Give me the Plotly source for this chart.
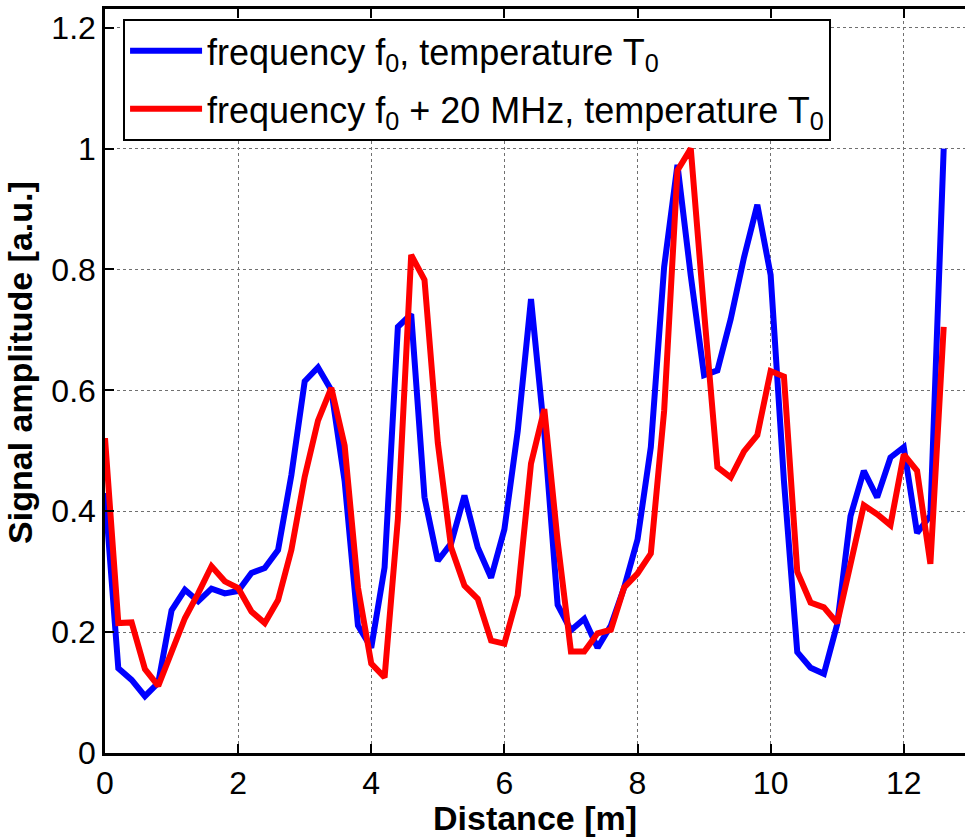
import plotly.graph_objects as go

distance = [0.0, 0.2, 0.4, 0.6, 0.8, 1.0, 1.2, 1.4, 1.6, 1.8,
            2.0, 2.2, 2.4, 2.6, 2.8, 3.0, 3.2, 3.4, 3.6, 3.8,
            4.0, 4.2, 4.4, 4.6, 4.8, 5.0, 5.2, 5.4, 5.6, 5.8,
            6.0, 6.2, 6.4, 6.6, 6.8, 7.0, 7.2, 7.4, 7.6, 7.8,
            8.0, 8.2, 8.4, 8.6, 8.8, 9.0, 9.2, 9.4, 9.6, 9.8,
            10.0, 10.2, 10.4, 10.6, 10.8, 11.0, 11.2, 11.4, 11.6, 11.8,
            12.0, 12.2, 12.4, 12.6]

amp_f0 = [0.43, 0.140, 0.121, 0.094, 0.116, 0.236, 0.270, 0.251, 0.272, 0.264,
          0.268, 0.298, 0.306, 0.336, 0.46, 0.615, 0.638, 0.600, 0.45, 0.211,
          0.174, 0.307, 0.705, 0.726, 0.423, 0.318, 0.347, 0.426, 0.340, 0.290,
          0.370, 0.532, 0.751, 0.53, 0.245, 0.203, 0.222, 0.174, 0.211, 0.274,
          0.353, 0.506, 0.804, 0.973, 0.79, 0.625, 0.633, 0.718, 0.82, 0.907,
          0.791, 0.45, 0.167, 0.141, 0.131, 0.213, 0.392, 0.467, 0.423, 0.489,
          0.506, 0.364, 0.393, 1.0]

amp_f0_20 = [0.521, 0.215, 0.216, 0.139, 0.111, 0.165, 0.223, 0.264, 0.309, 0.284,
             0.273, 0.234, 0.215, 0.253, 0.336, 0.457, 0.55, 0.604, 0.509, 0.274,
             0.148, 0.125, 0.387, 0.824, 0.783, 0.513, 0.340, 0.277, 0.255, 0.186,
             0.181, 0.261, 0.479, 0.569, 0.35, 0.168, 0.168, 0.198, 0.204, 0.274,
             0.297, 0.330, 0.566, 0.964, 1.0, 0.73, 0.473, 0.456, 0.499, 0.526,
             0.632, 0.623, 0.300, 0.249, 0.241, 0.215, 0.313, 0.410, 0.395, 0.377,
             0.494, 0.467, 0.313, 0.705]

x_ticks = [0, 2, 4, 6, 8, 10, 12]
y_ticks = [0, 0.2, 0.4, 0.6, 0.8, 1.0, 1.2]
y_ticklabels = ["0", "0.2", "0.4", "0.6", "0.8", "1", "1.2"]

names = ["frequency f<sub>0</sub>, temperature T<sub>0</sub>",
         "frequency f<sub>0</sub> + 20 MHz, temperature T<sub>0</sub>"]

FONT = "Liberation Sans, Arial, sans-serif"

fig = go.Figure()
fig.add_trace(go.Scatter(x=distance, y=amp_f0, mode="lines", name=names[0],
                         legendgroup="g1",
                         line=dict(color="#0000ff", width=6)))
fig.add_trace(go.Scatter(x=distance, y=amp_f0_20, mode="lines", name=names[1],
                         legendgroup="g2",
                         line=dict(color="#ff0000", width=6)))

fig.update_layout(
    width=965, height=837,
    margin=dict(l=105, r=0, t=9, b=84),
    paper_bgcolor="white", plot_bgcolor="white",
    font=dict(family=FONT, color="black", size=32),
    showlegend=True,
    legend=dict(x=0.021, y=0.9866, xanchor="left", yanchor="top",
                bgcolor="white", bordercolor="black", borderwidth=2,
                font=dict(size=36, family=FONT), itemwidth=72,
                tracegroupgap=8),
    xaxis=dict(range=[0, 12.92], tickvals=x_ticks, ticks="inside", ticklen=9,
               tickwidth=1.5, tickcolor="black",
               showline=True, linecolor="black", linewidth=2.5, mirror="ticks",
               showgrid=True, gridcolor="#707070", griddash="dot", gridwidth=1,
               zeroline=False, tickfont=dict(size=32),
               title=dict(text="<b>Distance [m]</b>", font=dict(size=34), standoff=2)),
    yaxis=dict(range=[0, 1.231], tickvals=y_ticks, ticktext=y_ticklabels,
               ticks="inside", ticklen=9, tickwidth=1.5, tickcolor="black",
               showline=True, linecolor="black", linewidth=2.5, mirror=False,
               showgrid=True, gridcolor="#707070", griddash="dot", gridwidth=1,
               zeroline=False, tickfont=dict(size=32)),
    annotations=[dict(text="<b>Signal amplitude [a.u.]</b>", textangle=-90,
                      xref="paper", yref="paper", x=-0.0988, y=0.5244,
                      xanchor="center", yanchor="middle", showarrow=False,
                      font=dict(size=34, family=FONT, color="black"))],
)

fig.write_html("out.html")
